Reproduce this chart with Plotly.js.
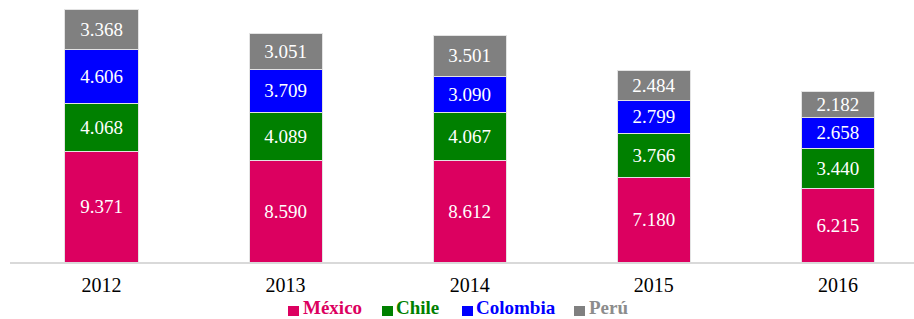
<!DOCTYPE html>
<html>
<head>
<meta charset="utf-8">
<script src="https://cdn.plot.ly/plotly-3.0.1.min.js"></script>
<style>html,body{margin:0;padding:0;background:#fff;}#chart{width:914px;height:319px;}</style>
</head>
<body>
<div id="chart"></div>
<script>
const years = ['2012', '2013', '2014', '2015', '2016'];
const mexico = [9.371, 8.590, 8.612, 7.180, 6.215];
const chile = [4.068, 4.089, 4.067, 3.766, 3.440];
const colombia = [4.606, 3.709, 3.090, 2.799, 2.658];
const peru = [3.368, 3.051, 3.501, 2.484, 2.182];
const seriesNames = ['México', 'Chile', 'Colombia', 'Perú'];
const seriesColors = ['#dc0060', '#008000', '#0000ff', '#808080'];
const legendTextColors = ['#dc0060', '#008000', '#0000ff', '#8c8c8c'];

const seriesValues = [mexico, chile, colombia, peru];
const traces = seriesValues.map((vals, i) => ({
  type: 'bar',
  x: years,
  y: vals,
  name: seriesNames[i],
  width: 0.397,
  marker: {color: seriesColors[i], line: {color: '#e3e3e3', width: 1}},
  texttemplate: '%{y:.3f}',
  textposition: 'inside',
  insidetextanchor: 'middle',
  constraintext: 'none',
  textangle: 0,
  textfont: {family: 'Liberation Serif', size: 19, color: '#ffffff'},
  hoverinfo: 'skip',
  showlegend: false
}));

// legend drawn as squares + text (pixel layout)
const L = 10, PW = 904;
const squareLeft = [288, 382, 462, 574];
const textLeft = [302, 395, 475, 588];
const shapes = [];
const annotations = [];
seriesNames.forEach((n, i) => {
  const xs = (squareLeft[i] - L) / PW;
  shapes.push({type: 'rect', xref: 'paper', yref: 'paper', xsizemode: 'pixel', ysizemode: 'pixel',
    xanchor: xs, yanchor: 0, x0: 0, x1: 11, y0: -44, y1: -54,
    fillcolor: seriesColors[i], line: {width: 0}});
  annotations.push({xref: 'paper', yref: 'paper', x: (textLeft[i] - L) / PW, y: 0,
    xanchor: 'left', yanchor: 'bottom', yshift: -57, borderpad: 0, showarrow: false,
    text: '<b>' + n + '</b>',
    font: {family: 'Liberation Serif', size: 19, color: legendTextColors[i]}});
});

const layout = {
  width: 914, height: 319,
  margin: {l: 10, r: 0, t: 0, b: 57},
  barmode: 'stack',
  paper_bgcolor: '#ffffff', plot_bgcolor: '#ffffff',
  showlegend: false,
  xaxis: {
    type: 'category', range: [-0.497, 4.413],
    showline: true, linecolor: '#d9d9d9', linewidth: 2,
    ticks: '', showgrid: false, zeroline: false,
    ticklabelstandoff: 4,
    tickfont: {family: 'Liberation Serif', size: 20, color: '#000000'}
  },
  yaxis: {
    range: [0, 22.26], visible: false, showgrid: false, zeroline: false
  },
  shapes: shapes,
  annotations: annotations
};

Plotly.newPlot('chart', traces, layout, {displayModeBar: false, staticPlot: true});
</script>
</body>
</html>
